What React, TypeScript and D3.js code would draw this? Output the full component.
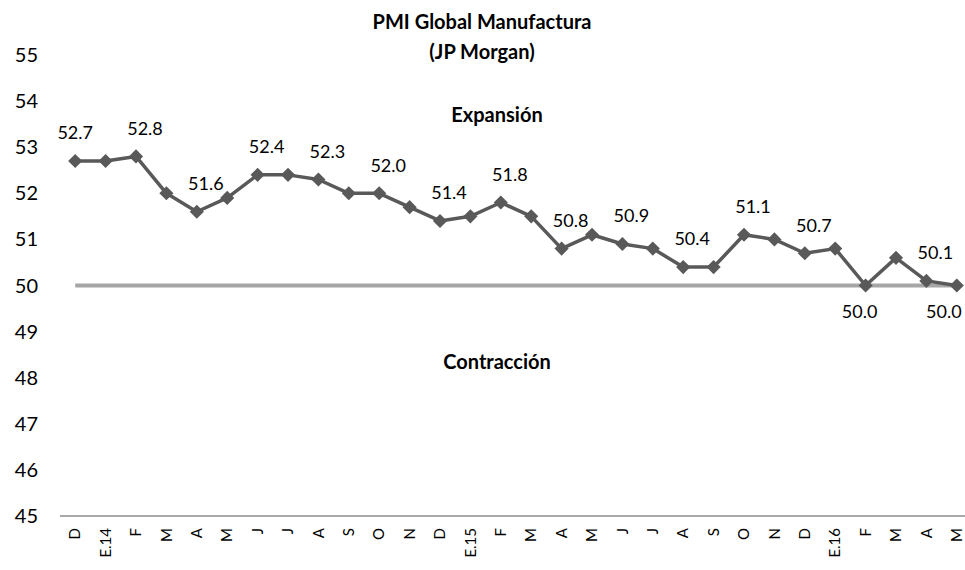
import * as d3 from "d3";

const months = ["D", "E.14", "F", "M", "A", "M", "J", "J", "A", "S", "O", "N", "D", "E.15", "F", "M", "A", "M", "J", "J", "A", "S", "O", "N", "D", "E.16", "F", "M", "A", "M"];
const pmi = [52.7, 52.7, 52.8, 52.0, 51.6, 51.9, 52.4, 52.4, 52.3, 52.0, 52.0, 51.7, 51.4, 51.5, 51.8, 51.5, 50.8, 51.1, 50.9, 50.8, 50.4, 50.4, 51.1, 51.0, 50.7, 50.8, 50.0, 50.6, 50.1, 50.0];
const labelled = [0, 2, 4, 6, 8, 10, 12, 14, 16, 18, 20, 22, 24, 26, 28, 29];
const below = [26, 29];
const yTicks = [45, 46, 47, 48, 49, 50, 51, 52, 53, 54, 55];
const threshold = 50;

const W = 965;
const H = 570;
const FONT = "Lato, 'Open Sans', sans-serif";

export default function App() {
  const x = d3.scaleBand<number>().domain(d3.range(months.length)).range([60, 972]);
  const y = d3.scaleLinear().domain([45, 55]).range([516, 55]);
  const cx = (i: number) => (x(i) ?? 0) + x.bandwidth() / 2;

  const line = d3
    .line<number>()
    .x((_, i) => cx(i))
    .y((d) => y(d));

  const marker = d3.symbol().type(d3.symbolSquare).size(100)();
  const last = months.length - 1;

  return (
    <svg width={W} height={H} style={{ position: "absolute", left: 0, top: 0, background: "#fff" }} fontFamily={FONT}>
      <text x={482} y={22} dy="0.35em" textAnchor="middle" fontWeight="bold" fontSize={20}>PMI Global Manufactura</text>
      <text x={482} y={52} dy="0.35em" textAnchor="middle" fontWeight="bold" fontSize={20}>(JP Morgan)</text>
      <text x={497} y={115} dy="0.35em" textAnchor="middle" fontWeight="bold" fontSize={20}>Expansión</text>
      <text x={497} y={362} dy="0.35em" textAnchor="middle" fontWeight="bold" fontSize={20}>Contracción</text>

      {yTicks.map((t) => (
        <text key={t} x={38} y={y(t)} dy="0.35em" textAnchor="end" fontSize={20}>{t}</text>
      ))}

      <line x1={60} x2={W} y1={y(45)} y2={y(45)} stroke="#8c8c8c" strokeWidth={1.5} />
      {months.map((m, i) => (
        <text key={i} transform={`translate(${cx(i)},${y(45) + 12}) rotate(-90)`} textAnchor="end" dy="0.35em" fontSize={15}>{m}</text>
      ))}

      <line x1={cx(0)} x2={cx(last)} y1={y(threshold)} y2={y(threshold)} stroke="#a6a6a6" strokeWidth={4} />

      <path d={line(pmi) ?? ""} fill="none" stroke="#595959" strokeWidth={3.5} strokeLinejoin="round" />
      {pmi.map((v, i) => (
        <path key={i} d={marker ?? ""} transform={`translate(${cx(i)},${y(v)}) rotate(45)`} fill="#595959" />
      ))}

      {labelled.map((i) => {
        const isBelow = below.includes(i);
        const dx = i === 0 ? 0 : i === last ? -13 : isBelow ? -6 : 9;
        return (
          <text key={i} x={cx(i) + dx} y={y(pmi[i]) + (isBelow ? 26 : -28)} dy="0.35em" textAnchor="middle" fontSize={18}>
            {pmi[i].toFixed(1)}
          </text>
        );
      })}
    </svg>
  );
}
